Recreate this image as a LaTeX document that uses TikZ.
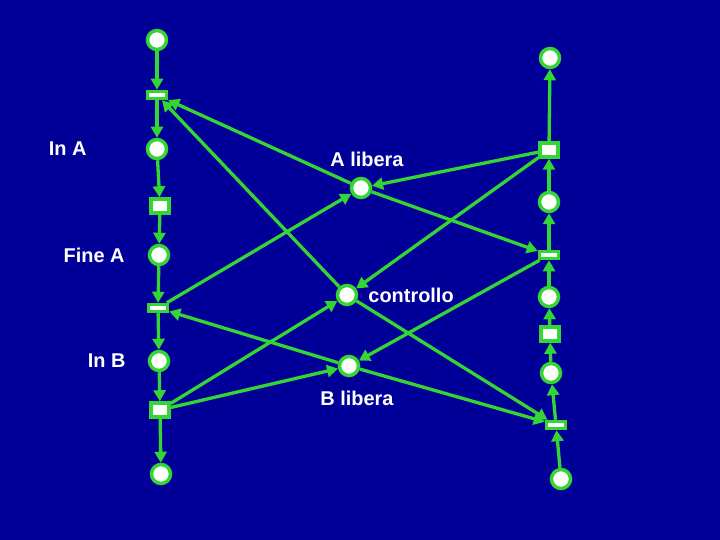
\documentclass[tikz,border=0pt]{standalone}
\usepackage{fontspec}
\setmainfont{Liberation Sans}
\usetikzlibrary{arrows.meta, positioning}
\definecolor{netblue}{RGB}{0,0,153}
\definecolor{netgreen}{RGB}{51,214,51}

\begin{document}
\begin{tikzpicture}[
    x=1bp, y=-1bp,
    place/.style={circle, draw=netgreen, fill=white, line width=3.5bp, minimum size=19bp, inner sep=0pt},
    tbar/.style={rectangle, draw=netgreen, fill=white, line width=3.5bp, minimum width=19bp, minimum height=7bp, inner sep=0pt},
    tsq/.style={rectangle, draw=netgreen, fill=white, line width=3.5bp, minimum width=18bp, minimum height=14bp, inner sep=0pt},
    arc/.style={draw=netgreen, line width=3.3bp, -{Triangle[length=11bp,width=12bp]}},
    lbl/.style={text=white, inner sep=0pt, font=\fontsize{20}{22}\selectfont\bfseries}
]
\fill[netblue] (0,0) rectangle (720,540);

% processo A
\node[place] (a0) at (157,40) {};
\node[tbar] (ta1) at (157,95) {};
\node[place] (a1) at (157,149) {};
\node[tsq] (ta2) at (160,206) {};
\node[place] (a2) at (159,255) {};
\node[tbar] (ta3) at (158,308) {};
\node[place] (a3) at (159,361) {};
\node[tsq] (ta4) at (160,410) {};
\node[place] (a4) at (161,474) {};

% processo B
\node[place] (b0) at (550,58) {};
\node[tsq] (tb1) at (549,150) {};
\node[place] (b1) at (549,202) {};
\node[tbar] (tb2) at (549,255) {};
\node[place] (b2) at (549,297) {};
\node[tsq] (tb3) at (550,334) {};
\node[place] (b3) at (551,373) {};
\node[tbar] (tb4) at (556,425) {};
\node[place] (b4) at (561,479) {};

% risorse
\node[place] (alib) at (361,188) {};
\node[place] (ctrl) at (347,295) {};
\node[place] (blib) at (349,366) {};

\node[lbl, left=59bp of a1] {In A};
\node[lbl, left=23bp of a2] {Fine A};
\node[lbl, left=22bp of a3] {In B};
\node[lbl, above=10bp of alib, xshift=6bp] {A libera};
\node[lbl, right=10bp of ctrl] {controllo};
\node[lbl, below=14bp of blib, xshift=8bp] {B libera};

\draw[arc] (a0) -- (ta1);
\draw[arc] (ta1) -- (a1);
\draw[arc] (a1) -- (ta2);
\draw[arc] (ta2) -- (a2);
\draw[arc] (a2) -- (ta3);
\draw[arc] (ta3) -- (a3);
\draw[arc] (a3) -- (ta4);
\draw[arc] (ta4) -- (a4);

\draw[arc] (b4) -- (tb4);
\draw[arc] (tb4) -- (b3);
\draw[arc] (b3) -- (tb3);
\draw[arc] (tb3) -- (b2);
\draw[arc] (b2) -- (tb2);
\draw[arc] (tb2) -- (b1);
\draw[arc] (b1) -- (tb1);
\draw[arc] (tb1) -- (b0);

\draw[arc] (alib) -- (ta1);
\draw[arc] (ctrl) -- (ta1);
\draw[arc] (ta3) -- (alib);
\draw[arc] (tb1) -- (alib);
\draw[arc] (alib) -- (tb2);
\draw[arc] (tb1) -- (ctrl);
\draw[arc] (ta4) -- (ctrl);
\draw[arc] (ctrl) -- (tb4);
\draw[arc] (blib) -- (ta3);
\draw[arc] (ta4) -- (blib);
\draw[arc] (tb2) -- (blib);
\draw[arc] (blib) -- (tb4);
\end{tikzpicture}
\end{document}
